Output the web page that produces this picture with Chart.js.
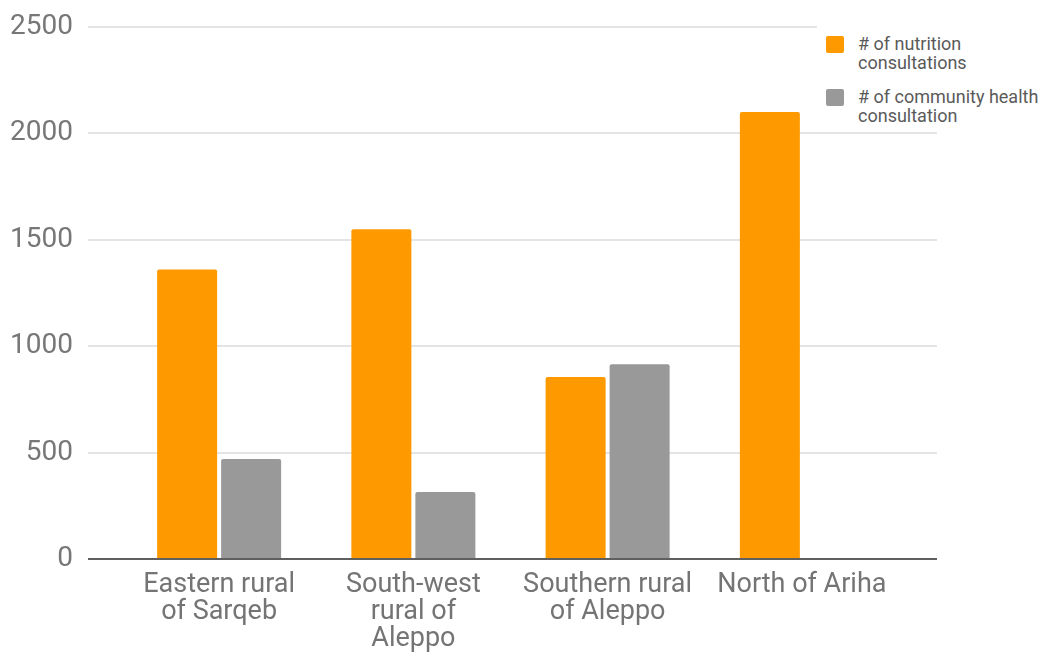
<!DOCTYPE html>
<html>
<head>
<meta charset="utf-8">
<script src="https://cdn.jsdelivr.net/npm/chart.js@4/dist/chart.umd.min.js"></script>
<style>
    body { margin: 0; background: #fff; }
    #wrap { position: relative; width: 1048px; height: 655px; }
    #legend {
        position: absolute; left: 817px; top: 0; width: 231px; height: 132px;
        background: #fff; font-family: Roboto, sans-serif; font-size: 18px;
        line-height: 19px; color: #5a5a5a;
    }
    .item { position: absolute; left: 0; }
    .swatch { position: absolute; left: 9px; width: 18px; height: 17px; border-radius: 2px; }
    .label { position: absolute; left: 41px; white-space: nowrap; }
</style>
</head>
<body>
<div id="wrap">
    <canvas id="chart" width="1048" height="655"></canvas>
    <div id="legend">
        <div class="item" style="top:36px">
            <div class="swatch" style="background:#ff9900"></div>
            <div class="label" style="top:-2px"># of nutrition<br>consultations</div>
        </div>
        <div class="item" style="top:89px">
            <div class="swatch" style="background:#999999"></div>
            <div class="label" style="top:-2px"># of community health<br>consultation</div>
        </div>
    </div>
</div>
<script>
const categories = [
    ['Eastern rural', 'of Sarqeb'],
    ['South-west', 'rural of', 'Aleppo'],
    ['Southern rural', 'of Aleppo'],
    'North of Ariha'
]
const nutrition = [1360, 1550, 855, 2100]
const communityHealth = [470, 315, 915, null]
const yTicks = [0, 500, 1000, 1500, 2000, 2500]

const gridColor = ctx => (ctx.tick && ctx.tick.value === 0) ? '#5f5f5f' : '#e4e4e4'

const chartData = {
    labels: categories,
    datasets: [{
        label: '# of nutrition consultations',
        data: nutrition,
        backgroundColor: '#ff9900',
        borderRadius: 2,
        borderSkipped: 'bottom',
        barPercentage: 0.9375,
        categoryPercentage: 0.659,
    }, {
        label: '# of community health consultation',
        data: communityHealth,
        backgroundColor: '#999999',
        borderRadius: 2,
        borderSkipped: 'bottom',
        barPercentage: 0.9375,
        categoryPercentage: 0.659,
    }]
}

const chartOptions = {
    responsive: false,
    animation: false,
    layout: { padding: { left: 10, right: 111, top: 27, bottom: 2 } },
    plugins: {
        legend: { display: false },
        tooltip: { enabled: false },
    },
    scales: {
        x: {
            afterFit: axis => { axis.height = 94 },
            grid: { display: false },
            border: { display: false },
            ticks: {
                color: '#747474', padding: 5, maxRotation: 0, autoSkip: false,
                font: { family: 'Roboto', size: 27, lineHeight: 1.0 },
            },
        },
        y: {
            position: 'left',
            min: yTicks[0], max: yTicks[yTicks.length - 1],
            afterBuildTicks: axis => { axis.ticks = yTicks.map(v => ({ value: v })) },
            afterFit: axis => {
                axis.width = 112
                axis.paddingTop = 0
                axis.paddingBottom = 0
            },
            grid: { color: gridColor, lineWidth: 2, tickLength: 34 },
            border: { display: false },
            ticks: {
                color: '#777777', padding: 15,
                font: { family: 'Roboto', size: 28 },
                callback: v => String(v),
            },
        },
        y2: {
            position: 'right',
            min: yTicks[0], max: yTicks[yTicks.length - 1],
            afterBuildTicks: axis => { axis.ticks = yTicks.map(v => ({ value: v })) },
            afterFit: axis => { axis.width = 38 },
            grid: { color: gridColor, lineWidth: 2, tickLength: 38, drawOnChartArea: false },
            border: { display: false },
            ticks: { display: false },
        },
    },
}

new Chart(document.getElementById('chart').getContext('2d'), {
    type: 'bar',
    data: chartData,
    options: chartOptions
})
</script>
</body>
</html>
